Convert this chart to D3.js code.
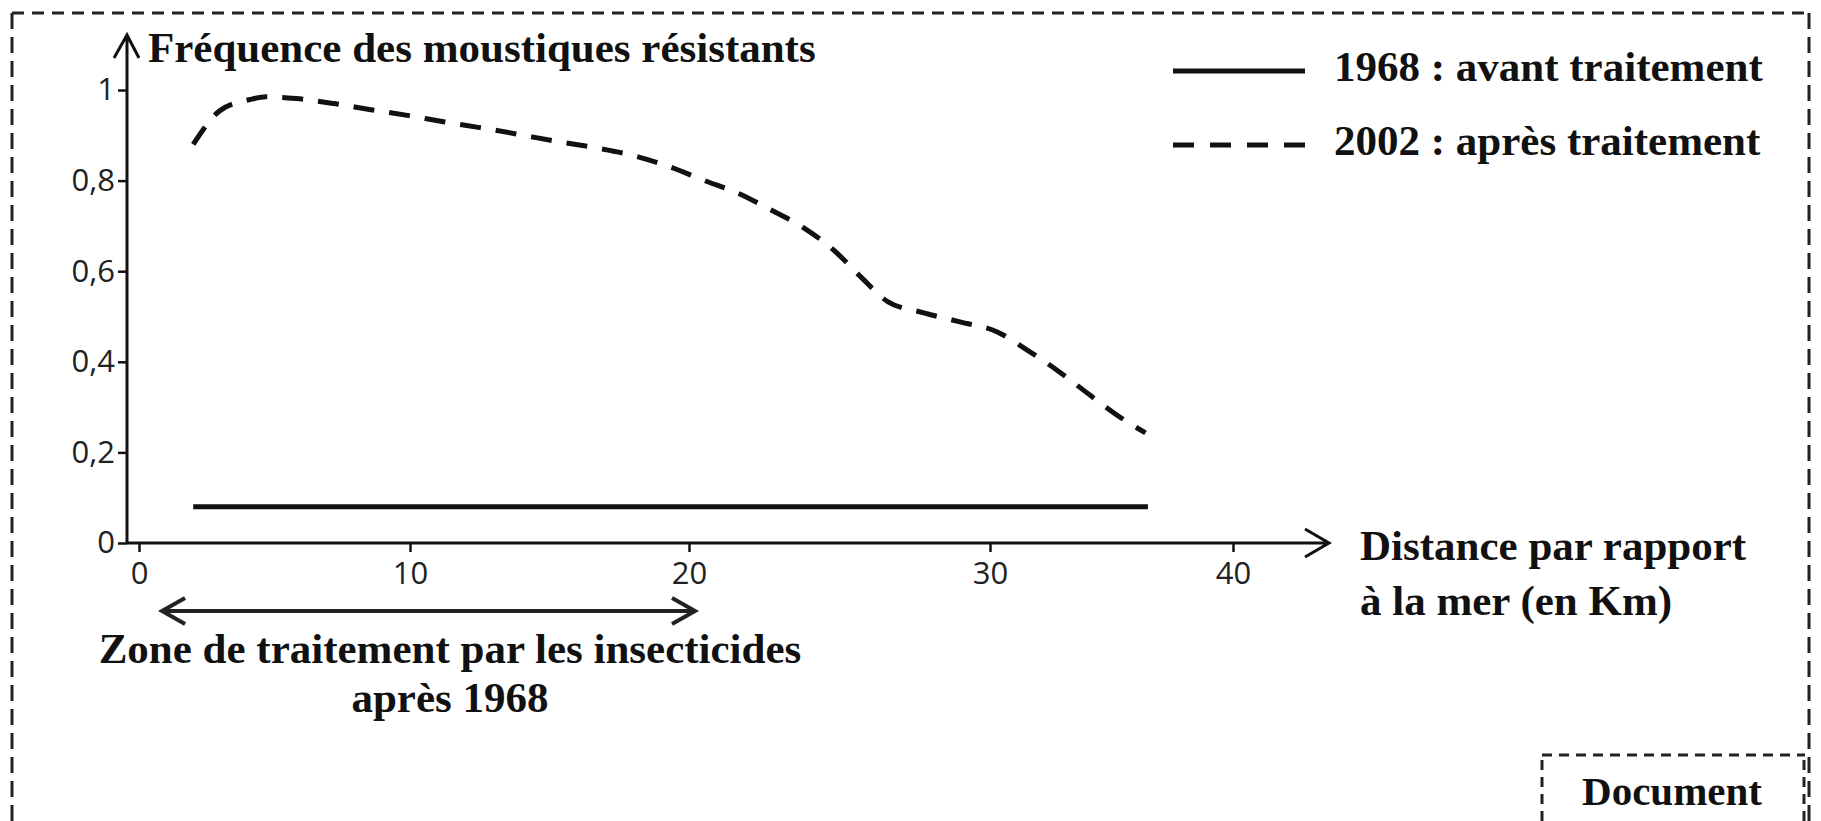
<!DOCTYPE html>
<html>
<head>
<meta charset="utf-8">
<script src="https://cdn.jsdelivr.net/npm/d3@7/dist/d3.min.js"></script>
<style>
    body { margin: 0; background: #fff; }
    .serif { font-family: "Liberation Serif", "Times New Roman", serif; font-weight: bold; fill: #111; }
    .axis text { font-family: "Open Sans", sans-serif; font-size: 31px; fill: #222; }
    .axis line { stroke: #111; stroke-width: 2.5; }
    .frame { fill: none; stroke: #222; stroke-width: 3; }
</style>
</head>
<body>
<div id="chart"></div>
<script>
/*global d3*/

// ticks of the two axes
var distTicks = [0, 10, 20, 30, 40];
var freqTicks = [0, 0.2, 0.4, 0.6, 0.8, 1];

// 1968 : avant traitement
var dist1968 = [2, 36.5];
var freq1968 = [0.08, 0.08];

// 2002 : après traitement
var dist2002 = [2, 3, 4.1, 4.7, 5.8, 7.2, 8.5, 9.9, 11.2, 12.5, 13.9, 15.3, 16.6, 17.9, 19.1,
    20.6, 21.6, 22.7, 23.8, 24.8, 25.7, 26.6, 27.8, 29.0, 30.3, 31.5, 32.9, 34.1, 35.4, 36.4];
var freq2002 = [0.88, 0.955, 0.979, 0.985, 0.981, 0.970, 0.957, 0.944, 0.930, 0.917, 0.902, 0.886, 0.873, 0.857, 0.835,
    0.798, 0.773, 0.736, 0.696, 0.647, 0.588, 0.533, 0.508, 0.488, 0.466, 0.427, 0.376, 0.327, 0.276, 0.243];

// zone de traitement (km)
var zone = [0.85, 20.2];

var legendLabels = ["1968 : avant traitement", "2002 : après traitement"];

(function () {
    "use strict";
    var W = 1821,
        H = 821,

        // the x axis of the document is hand drawn: ticks are not evenly spaced
        x = d3.scaleLinear()
            .domain(distTicks)
            .range([139, 410, 689, 990, 1233]),

        y = d3.scaleLinear()
            .domain([0, 1])
            .range([543, 90]),

        axisX0 = 127,
        axisTop = y(1) - 55,
        axisRight = x(40) + 96,

        line = d3.line()
            .x(function (d) { return x(d[0]); })
            .y(function (d) { return y(d[1]); })
            .curve(d3.curveMonotoneX),

        svg = d3.select("#chart").append("svg")
            .attr("width", W)
            .attr("height", H);

    svg.append("rect").attr("width", W).attr("height", H).attr("fill", "#fff");

    // dashed frame of the document
    svg.append("path").attr("class", "frame")
        .attr("stroke-dasharray", "12,8")
        .attr("d", "M12,13H1809");
    svg.append("path").attr("class", "frame")
        .attr("stroke-dasharray", "16,8")
        .attr("d", "M12,13V821M1809,13V821");
    svg.append("path").attr("class", "frame")
        .attr("stroke-dasharray", "10,7")
        .attr("d", "M1542,755H1805");
    svg.append("path").attr("class", "frame")
        .attr("stroke-dasharray", "10,7")
        .attr("d", "M1542,760V821M1804,760V821");
    svg.append("text").attr("class", "serif")
        .attr("x", 1672).attr("y", 805)
        .attr("text-anchor", "middle")
        .style("font-size", "41px")
        .text("Document");

    // axes
    svg.append("g")
        .attr("class", "axis")
        .attr("transform", "translate(" + axisX0 + ",0)")
        .call(d3.axisLeft(y).tickValues(freqTicks).tickSize(9).tickPadding(3)
            .tickFormat(function (d) { return String(d).replace(".", ","); }))
        .call(function (g) { g.select(".domain").remove(); });

    svg.append("g")
        .attr("class", "axis")
        .attr("transform", "translate(0," + y(0) + ")")
        .call(d3.axisBottom(x).tickValues(distTicks).tickSize(9).tickPadding(10))
        .call(function (g) { g.select(".domain").remove(); });

    svg.append("path")
        .attr("fill", "none").attr("stroke", "#111").attr("stroke-width", 3)
        .attr("d", "M" + axisX0 + "," + y(0) + "V" + axisTop +
            "M" + (axisX0 - 13) + "," + (axisTop + 23) + "L" + axisX0 + "," + axisTop + "L" + (axisX0 + 12) + "," + (axisTop + 23));
    svg.append("path")
        .attr("fill", "none").attr("stroke", "#111").attr("stroke-width", 3)
        .attr("d", "M" + axisX0 + "," + y(0) + "H" + axisRight +
            "M" + (axisRight - 24) + "," + (y(0) - 14) + "L" + axisRight + "," + y(0) + "L" + (axisRight - 24) + "," + (y(0) + 14));

    svg.append("text").attr("class", "serif")
        .attr("x", 148).attr("y", 62)
        .style("font-size", "43px")
        .text("Fréquence des moustiques résistants");

    svg.append("text").attr("class", "serif")
        .attr("x", 1360).attr("y", 560)
        .style("font-size", "43px")
        .text("Distance par rapport");
    svg.append("text").attr("class", "serif")
        .attr("x", 1360).attr("y", 615)
        .style("font-size", "43px")
        .text("à la mer (en Km)");

    // curves
    svg.append("path")
        .datum(d3.zip(dist1968, freq1968))
        .attr("fill", "none").attr("stroke", "#111").attr("stroke-width", 5)
        .attr("d", line);

    svg.append("path")
        .datum(d3.zip(dist2002, freq2002))
        .attr("fill", "none").attr("stroke", "#111").attr("stroke-width", 5)
        .attr("stroke-dasharray", "21,15")
        .attr("d", line);

    // legend
    var legend = svg.append("g").selectAll("g")
        .data(legendLabels)
        .enter().append("g")
        .attr("transform", function (d, i) { return "translate(1173," + (71 + i * 74) + ")"; });
    legend.append("line")
        .attr("x1", 0).attr("x2", 132)
        .attr("stroke", "#111").attr("stroke-width", 5)
        .attr("stroke-dasharray", function (d, i) { return i ? "21,16" : null; });
    legend.append("text").attr("class", "serif")
        .attr("x", 161).attr("y", 10)
        .style("font-size", "43px")
        .text(function (d) { return d; });

    // zone de traitement
    var zy = 611, zx0 = x(zone[0]), zx1 = x(zone[1]);
    svg.append("path")
        .attr("fill", "none").attr("stroke", "#222").attr("stroke-width", 4)
        .attr("d", "M" + zx0 + "," + zy + "H" + zx1 +
            "M" + (zx0 + 23) + "," + (zy - 13) + "L" + zx0 + "," + zy + "L" + (zx0 + 23) + "," + (zy + 13) +
            "M" + (zx1 - 23) + "," + (zy - 13) + "L" + zx1 + "," + zy + "L" + (zx1 - 23) + "," + (zy + 13));
    svg.append("text").attr("class", "serif")
        .attr("x", 450).attr("y", 663)
        .attr("text-anchor", "middle")
        .style("font-size", "43px")
        .text("Zone de traitement par les insecticides");
    svg.append("text").attr("class", "serif")
        .attr("x", 450).attr("y", 712)
        .attr("text-anchor", "middle")
        .style("font-size", "43px")
        .text("après 1968");
}());
</script>
</body>
</html>
